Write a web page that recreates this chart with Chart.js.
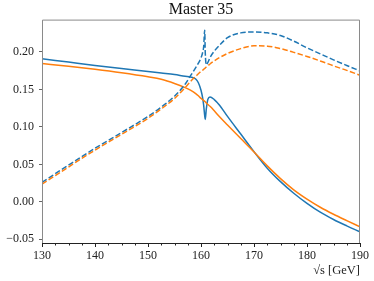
<!DOCTYPE html>
<html>
<head>
<meta charset="utf-8">
<script src="https://cdn.jsdelivr.net/npm/chart.js@4/dist/chart.umd.min.js"></script>
<style>
  html, body { margin: 0; padding: 0; background: #fff; }
  #wrap { width: 374px; height: 281px; }
</style>
</head>
<body>
<div id="wrap"><canvas id="master"></canvas></div>
<script>
// sqrt(s) in GeV
const energies = [130, 135, 140, 145, 150, 152.5, 155, 157, 158, 159, 159.5, 160, 160.3, 160.5, 160.7, 160.8,
    161, 161.3, 161.7, 162.5, 163.5, 165, 167.5, 170, 172.5, 175, 177.5, 180, 182.5, 185, 187.5, 190];

const blueSolid = [0.191, 0.1865, 0.182, 0.178, 0.174, 0.172, 0.170, 0.1676, 0.1667, 0.164, 0.159, 0.149, 0.139, 0.129, 0.115, 0.110,
    0.124, 0.137, 0.140, 0.1365, 0.129, 0.114, 0.0905, 0.067, 0.045, 0.027, 0.0115, -0.002, -0.0138, -0.0235, -0.032, -0.040];

const orangeSolid = [0.1845, 0.1808, 0.1768, 0.1722, 0.1668, 0.1635, 0.158, 0.1525, 0.149, 0.1445, 0.1415, 0.138, 0.1365, 0.1353, 0.1341, 0.1335,
    0.132, 0.130, 0.1275, 0.1215, 0.1135, 0.1025, 0.0845, 0.0665, 0.048, 0.031, 0.016, 0.0036, -0.0072, -0.0165, -0.025, -0.0333];

const blueDashed = [0.026, 0.049, 0.0715, 0.0925, 0.114, 0.1265, 0.141, 0.157, 0.168, 0.179, 0.185, 0.192, 0.199, 0.207, 0.229, 0.200,
    0.183, 0.186, 0.1925, 0.201, 0.209, 0.219, 0.2255, 0.2267, 0.2255, 0.222, 0.2145, 0.2055, 0.1975, 0.1895, 0.182, 0.1747];

const orangeDashed = [0.0235, 0.0465, 0.069, 0.090, 0.1115, 0.124, 0.138, 0.1525, 0.1605, 0.1675, 0.171, 0.174, 0.1755, 0.1768, 0.178, 0.1786,
    0.180, 0.1815, 0.184, 0.188, 0.1925, 0.198, 0.2045, 0.2082, 0.2078, 0.2045, 0.1995, 0.194, 0.188, 0.1815, 0.1755, 0.169];

const xTicks = [130, 140, 150, 160, 170, 180, 190];
const xMinorTicks = [132.5, 135, 137.5, 142.5, 145, 147.5, 152.5, 155, 157.5, 162.5, 165, 167.5, 172.5, 175, 177.5, 182.5, 185, 187.5];
const yTicks = [-0.05, 0, 0.05, 0.10, 0.15, 0.20];

const BLUE = '#1f77b4';
const ORANGE = '#ff7f0e';
const SERIF = "'Liberation Serif', 'DejaVu Serif', serif";

function pts(ys) {
    return energies.map((x, i) => ({ x: x, y: ys[i] }));
}

function series(ys, color, dashed) {
    return {
        data: pts(ys),
        borderColor: color,
        borderWidth: 1.5,
        borderDash: dashed ? [5.5, 2.4] : [],
        pointRadius: 0,
        fill: false,
        cubicInterpolationMode: 'monotone'
    };
}

// frame + minor ticks like matplotlib
const framePlugin = {
    id: 'frame',
    afterDraw(chart) {
        const { ctx, chartArea: a, scales } = chart;
        ctx.save();
        ctx.lineWidth = 1;
        ctx.strokeStyle = '#8a8a8a';
        ctx.beginPath();
        ctx.moveTo(a.left + 0.5, a.bottom);
        ctx.lineTo(a.left + 0.5, a.top + 0.5);
        ctx.lineTo(a.right - 0.5, a.top + 0.5);
        ctx.lineTo(a.right - 0.5, a.bottom);
        ctx.stroke();
        ctx.strokeStyle = '#222';
        ctx.beginPath();
        ctx.moveTo(a.left, a.bottom + 0.5);
        ctx.lineTo(a.right, a.bottom + 0.5);
        xMinorTicks.forEach(v => {
            const px = Math.round(scales.x.getPixelForValue(v)) + 0.5;
            ctx.moveTo(px, a.bottom);
            ctx.lineTo(px, a.bottom + 2.5);
        });
        ctx.stroke();
        ctx.restore();
    }
};

const ctx = document.getElementById('master').getContext('2d');
const chart = new Chart(ctx, {
    type: 'line',
    data: {
        datasets: [
            series(orangeDashed, ORANGE, true),
            series(blueDashed, BLUE, true),
            series(orangeSolid, ORANGE, false),
            series(blueSolid, BLUE, false)
        ]
    },
    options: {
        responsive: true,
        maintainAspectRatio: false,
        animation: false,
        layout: { padding: { left: 0, right: 14, top: 0, bottom: 0 } },
        plugins: {
            legend: { display: false },
            tooltip: { enabled: false },
            title: {
                display: true,
                fullSize: false,
                text: 'Master 35',
                color: '#111',
                font: { family: SERIF, size: 16, weight: 'normal', lineHeight: 1.1 },
                padding: { top: 1, bottom: 1 }
            }
        },
        scales: {
            x: {
                type: 'linear',
                min: 130,
                max: 190,
                afterBuildTicks: s => { s.ticks = xTicks.map(v => ({ value: v })); },
                afterFit: s => { s.height = 38; },
                grid: { drawOnChartArea: false, drawTicks: true, tickLength: 4, tickColor: '#222' },
                border: { display: false },
                ticks: {
                    color: '#222',
                    padding: 2,
                    maxRotation: 0,
                    font: { family: SERIF, size: 12 }
                },
                title: {
                    display: true,
                    align: 'end',
                    text: '√s [GeV]',
                    color: '#222',
                    font: { family: SERIF, size: 12.5 },
                    padding: { top: 0, bottom: 3 }
                }
            },
            y: {
                min: -0.0549,
                max: 0.2432,
                afterBuildTicks: s => { s.ticks = yTicks.map(v => ({ value: v })); },
                afterFit: s => { s.width = 42; },
                grid: { drawOnChartArea: false, drawTicks: true, tickLength: 3, tickColor: '#666' },
                border: { display: false },
                ticks: {
                    color: '#222',
                    padding: 5,
                    font: { family: SERIF, size: 12 },
                    callback: v => v.toFixed(2).replace('-', '\u2212')
                }
            }
        }
    },
    plugins: [framePlugin]
});
</script>
</body>
</html>
